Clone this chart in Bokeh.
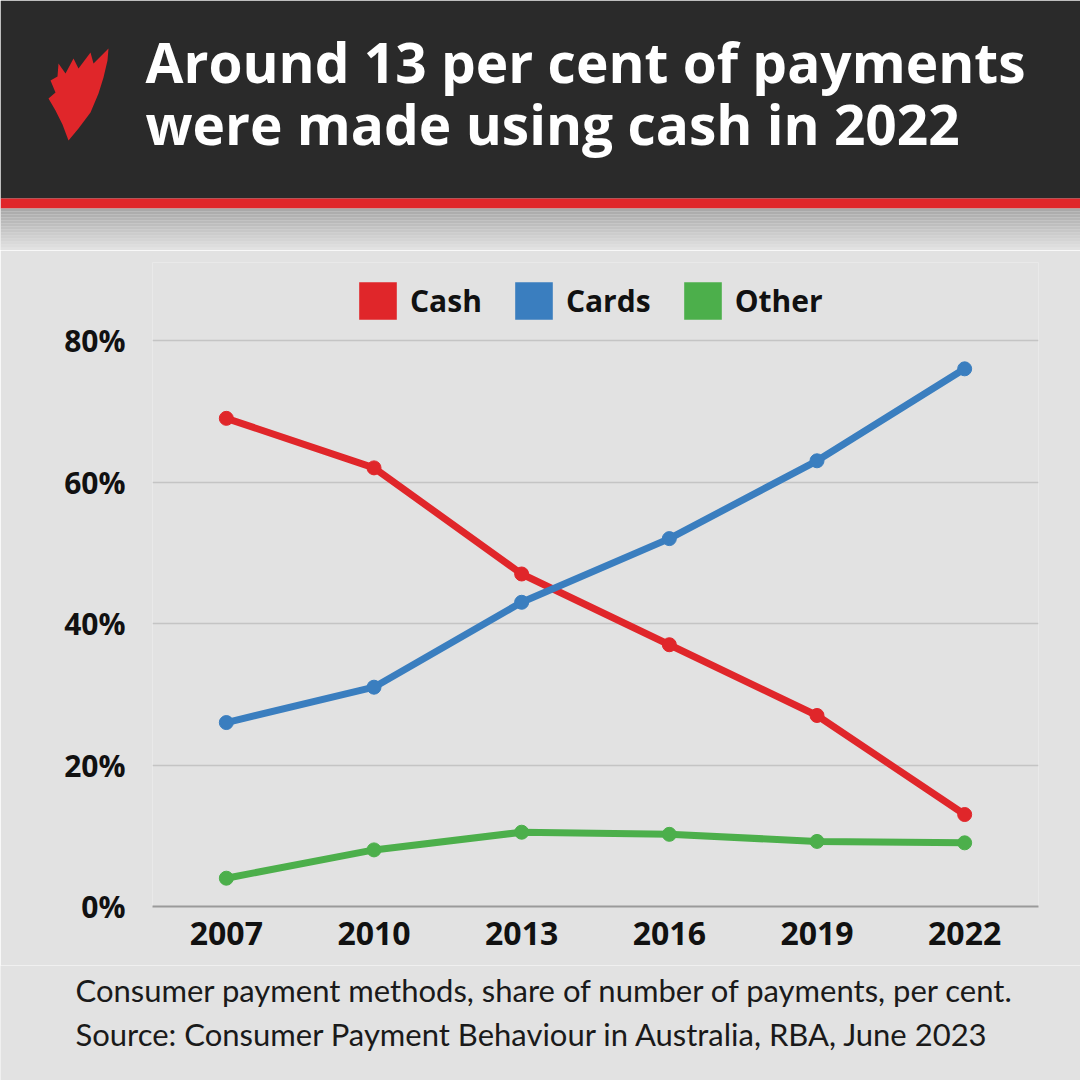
from bokeh.plotting import figure
from bokeh.models import Range1d, FixedTicker, Legend, LegendItem, PrintfTickFormatter
from bokeh.embed import file_html
from bokeh.resources import INLINE
from bokeh.core.properties import value

# ---------------- data ----------------
years = [2007, 2010, 2013, 2016, 2019, 2022]
cash = [69, 62, 47, 37, 27, 13]
cards = [26, 31, 43, 52, 63, 76]
other = [4, 8, 10.5, 10.2, 9.2, 9.0]
series_names = ["Cash", "Cards", "Other"]
y_ticks = [0, 20, 40, 60, 80]
title_lines = ["Around 13 per cent of payments", "were made using cash in 2022"]
footer_lines = ["Consumer payment methods, share of number of payments, per cent.",
                "Source: Consumer Payment Behaviour in Australia, RBA, June 2023"]

# ---------------- style ----------------
RED = "#e0262a"
BLUE = "#3a7ebf"
GREEN = "#4caf4b"
BG = "#e2e2e2"
DARK = "#2a2a2a"
FONT = "Open Sans"
W = 1080
HDR_H = 250
CH_H = 715
FT_H = 1080 - HDR_H - CH_H


def deco_figure(h):
    f = figure(width=W, height=h, x_range=Range1d(0, W), y_range=Range1d(h, 0),
               toolbar_location=None, output_backend="svg", min_border=0,
               x_axis_location=None, y_axis_location=None)
    f.grid.visible = False
    f.outline_line_color = None
    f.background_fill_color = BG
    f.border_fill_color = BG
    return f


# ---------------- header ----------------
hdr = deco_figure(HDR_H)
hdr.quad(left=[0], right=[W], top=[0], bottom=[198], fill_color=DARK, line_color=None)
hdr.quad(left=[0], right=[W], top=[198], bottom=[208], fill_color=RED, line_color=None)
n_bands = 14
for i in range(n_bands):
    t = i / (n_bands - 1)
    c = int(0xa9 + (0xe2 - 0xa9) * t)
    hdr.quad(left=[0], right=[W], top=[208 + i * 3], bottom=[208 + (i + 1) * 3],
             fill_color="#%02x%02x%02x" % (c, c, c), line_color=None)

logo = [(108, 48), (107, 60), (103, 77), (98, 93), (90, 112), (78, 128), (68, 140),
        (62, 124), (55, 110), (48, 98), (55, 92), (50, 80), (57, 76), (58, 63),
        (65, 73), (73, 58), (78, 68), (90, 52), (93, 63)]
hdr.patch([pt[0] for pt in logo], [pt[1] for pt in logo], fill_color=RED, line_color=None)

hdr.text(x=[145, 145], y=[61, 123], text=title_lines, text_font=value(FONT),
         text_font_style="bold", text_font_size="55px", text_color="white",
         text_baseline="alphabetic", text_align="left")

# ---------------- chart ----------------
p = figure(width=W, height=CH_H, x_range=Range1d(2005.5, 2023.5), y_range=Range1d(0, 91.03),
           toolbar_location=None, output_backend="svg",
           min_border_left=152, min_border_right=42, min_border_top=12, min_border_bottom=59)
p.background_fill_color = BG
p.border_fill_color = BG
p.outline_line_color = None

p.xaxis.ticker = FixedTicker(ticks=years)
p.xaxis.formatter = PrintfTickFormatter(format="%d")
p.yaxis.ticker = FixedTicker(ticks=y_ticks)
p.yaxis.formatter = PrintfTickFormatter(format="%d%%")
for ax in (p.xaxis, p.yaxis):
    ax.major_tick_line_color = None
    ax.minor_tick_line_color = None
    ax.major_label_text_font = FONT
    ax.major_label_text_font_style = "bold"
    ax.major_label_text_color = "#111111"
p.xaxis.major_label_text_font_size = "32px"
p.yaxis.major_label_text_font_size = "30px"
p.xaxis.axis_line_color = "#9a9a9a"
p.xaxis.axis_line_width = 2
p.xaxis.major_label_standoff = 9
p.yaxis.axis_line_color = None
p.yaxis.major_label_standoff = 21
p.xgrid.grid_line_color = None
p.ygrid.grid_line_color = "#c4c4c4"
p.ygrid.grid_line_width = 1.5

for vals, col in [(other, GREEN), (cash, RED), (cards, BLUE)]:
    p.line(years, vals, line_color=col, line_width=7)
    p.scatter(years, vals, size=14, fill_color=col, line_color=col)

legend_items = []
for name, vals, col in zip(series_names, [cash, cards, other], [RED, BLUE, GREEN]):
    r = p.quad(left=years, right=years, top=vals, bottom=vals, fill_color=col, line_color=None)
    legend_items.append(LegendItem(label=name, renderers=[r]))

legend = Legend(items=legend_items, location=(202, 582), orientation="horizontal",
                glyph_width=47, glyph_height=47, label_standoff=9, spacing=28,
                label_text_font=FONT, label_text_font_style="bold", label_text_font_size="30px",
                label_text_color="#111111", background_fill_alpha=0, border_line_color=None,
                margin=0, padding=10)
p.add_layout(legend, "center")

# ---------------- footer ----------------
ft = deco_figure(FT_H)
ft.text(x=[75, 75], y=[24, 68], text=footer_lines, text_font=value("Lato"),
        text_font_size="31px", text_color="#1a1a1a", text_baseline="middle", text_align="left")

open("out.html", "w").write(file_html([hdr, p, ft], INLINE))
